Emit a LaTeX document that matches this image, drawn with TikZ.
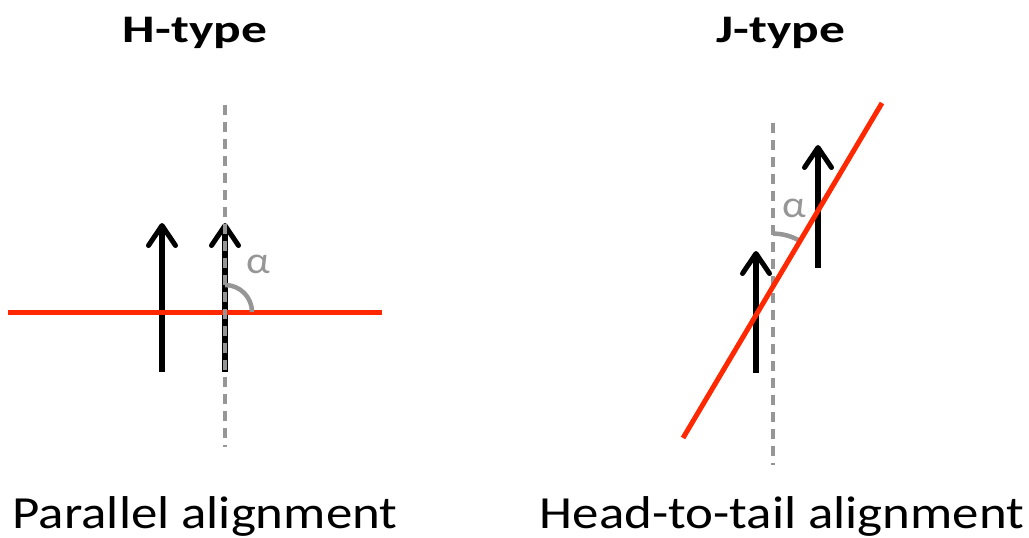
\documentclass[tikz,border=0pt]{standalone}
\usepackage{fontspec}
\setmainfont{Carlito}
\usetikzlibrary{arrows.meta,calc}
\definecolor{redline}{RGB}{255,40,0}
\definecolor{dashgray}{RGB}{150,150,150}
\tikzset{
  redax/.style={draw=redline,line width=5pt},
  dipole/.style={draw=black,line width=5.5pt,-{Straight Barb[length=20pt,width=27pt,line width=5pt,round]}},
  axis/.style={draw=dashgray,line width=3.2pt,dash pattern=on 10pt off 7pt},
  anglearc/.style={draw=dashgray,line width=4.5pt},
  title/.style={anchor=base,inner sep=0pt},
  caption/.style={anchor=base,inner sep=0pt},
  alpha/.style={text=dashgray,anchor=base,inner sep=0pt}
}
\newcommand{\ttl}[1]{\scalebox{1.32}[1]{\fontsize{39}{42}\selectfont\bfseries #1}}
\newcommand{\cpt}[1]{\scalebox{1.15}[1]{\fontsize{46}{50}\selectfont #1}}
\newcommand{\alp}{\scalebox{1.1}[1]{\fontsize{38}{40}\selectfont α}}
\begin{document}
\begin{tikzpicture}[x=1pt,y=-1pt]
\useasboundingbox (0,0) rectangle (1029,538);
% ---------- H-type ----------
\node[title] (htitle) at (195,42) {\ttl{H-type}};
\node[caption] (hcap) at (205,528) {\cpt{Parallel alignment}};
\coordinate (hL) at (8,312);
\coordinate (hR) at (382,312);
\coordinate (hO) at (225,312);
\coordinate (hTop) at (225,105);
\coordinate (hBot) at (225,447);
\coordinate (ha1s) at (162,372);
\coordinate (ha1e) at (162,223);
\coordinate (ha2s) at (225,372);
\coordinate (ha2e) at (225,223);
\draw[dipole] (ha1s) -- (ha1e);
\draw[dipole] (ha2s) -- (ha2e);
\draw[redax] (hL) -- (hR);
\draw[anglearc] ($(hO)+(27,0)$) arc[start angle=0,end angle=-90,radius=27];
\draw[axis] (hTop) -- (hBot);
\node[alpha] (halpha) at (258,273) {\alp};
% ---------- J-type ----------
\node[title] (jtitle) at (781,42) {\ttl{J-type}};
\node[caption] (jcap) at (782,528) {\cpt{Head-to-tail alignment}};
\coordinate (jA) at (683,438);
\coordinate (jB) at (882,103);
\coordinate (jTop) at (773,123);
\coordinate (jBot) at (773,465);
\coordinate (jO) at (773,286.6);
\coordinate (ja1s) at (756,373);
\coordinate (ja1e) at (756,251);
\coordinate (ja2s) at (818,268);
\coordinate (ja2e) at (818,145);
\draw[axis] (jTop) -- (jBot);
\draw[anglearc] ($(jO)+(0,-53)$) arc[start angle=-90,end angle=-59.3,radius=53];
\draw[dipole] (ja1s) -- (ja1e);
\draw[dipole] (ja2s) -- (ja2e);
\draw[redax] (jA) -- (jB);
\node[alpha] (jalpha) at (794,217) {\alp};
\end{tikzpicture}
\end{document}
